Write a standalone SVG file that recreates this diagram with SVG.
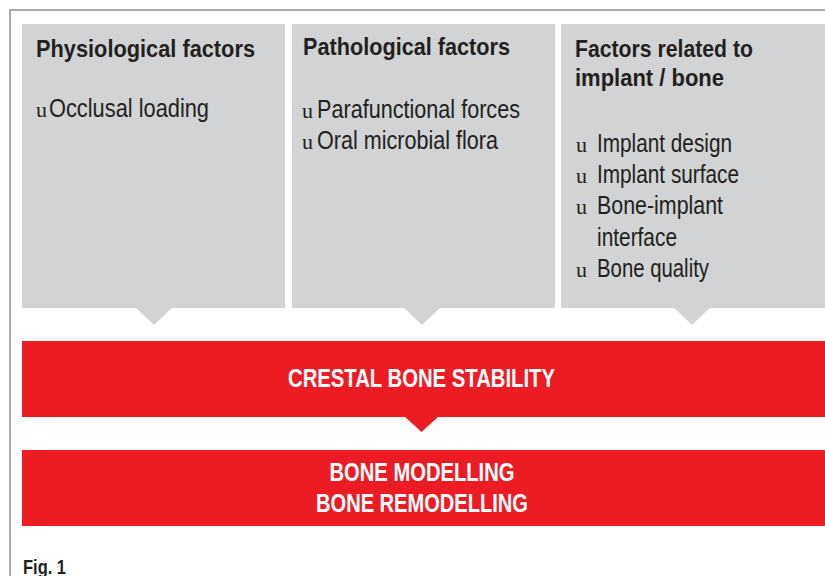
<svg xmlns="http://www.w3.org/2000/svg" width="825" height="576" viewBox="0 0 825 576">
<style>
.box{fill:#d1d3d4}
.red{fill:#ed1c24}
.hd{font-family:"Liberation Sans Narrow","Liberation Sans",Arial,sans-serif;font-weight:bold;font-size:24.5px;fill:#231f20}
.tx{font-family:"Liberation Sans Narrow","Liberation Sans",Arial,sans-serif;font-size:25.5px;fill:#231f20}
.bu{font-family:"Liberation Serif","Times New Roman",serif;font-size:22px;fill:#231f20}
.wt{font-family:"Liberation Sans Narrow","Liberation Sans",Arial,sans-serif;font-weight:bold;font-size:26px;fill:#ffffff}
.fig{font-family:"Liberation Sans Narrow","Liberation Sans",Arial,sans-serif;font-weight:bold;font-size:20px;fill:#231f20}
</style>
<rect width="825" height="576" fill="#ffffff"/>
<path d="M10,576 V10 H825" fill="none" stroke="#a7a9ac" stroke-width="2"/>
<g id="physiological">
<rect class="box" x="22" y="24" width="263" height="284"/>
<text class="hd" x="36" y="57" textLength="219" lengthAdjust="spacingAndGlyphs">Physiological factors</text>
<text class="bu" x="36" y="117">u</text>
<text class="tx" x="49" y="117" textLength="160" lengthAdjust="spacingAndGlyphs">Occlusal loading</text>
</g>
<g id="pathological">
<rect class="box" x="292" y="24" width="263" height="284"/>
<text class="hd" x="303" y="55" textLength="207" lengthAdjust="spacingAndGlyphs">Pathological factors</text>
<text class="bu" x="302" y="118">u</text>
<text class="tx" x="317" y="118" textLength="203" lengthAdjust="spacingAndGlyphs">Parafunctional forces</text>
<text class="bu" x="302" y="149">u</text>
<text class="tx" x="317" y="149" textLength="181" lengthAdjust="spacingAndGlyphs">Oral microbial flora</text>
</g>
<g id="implant-bone">
<rect class="box" x="561" y="24" width="264" height="284"/>
<text class="hd" x="575" y="57" textLength="178" lengthAdjust="spacingAndGlyphs">Factors related to</text>
<text class="hd" x="575" y="86" textLength="149" lengthAdjust="spacingAndGlyphs">implant / bone</text>
<text class="bu" x="576" y="152">u</text>
<text class="tx" x="597" y="152" textLength="135" lengthAdjust="spacingAndGlyphs">Implant design</text>
<text class="bu" x="576" y="183">u</text>
<text class="tx" x="597" y="183" textLength="142" lengthAdjust="spacingAndGlyphs">Implant surface</text>
<text class="bu" x="576" y="214">u</text>
<text class="tx" x="597" y="214" textLength="126" lengthAdjust="spacingAndGlyphs">Bone-implant</text>
<text class="tx" x="597" y="246" textLength="80" lengthAdjust="spacingAndGlyphs">interface</text>
<text class="bu" x="576" y="277">u</text>
<text class="tx" x="597" y="277" textLength="112" lengthAdjust="spacingAndGlyphs">Bone quality</text>
</g>
<g id="connectors">
<polygon class="box" points="135,307 173,307 154,325"/>
<polygon class="box" points="403,307 441,307 422,325"/>
<polygon class="box" points="673,307 711,307 692,325"/>
<polygon class="red" points="404,416 439,416 421.5,432"/>
</g>
<g id="crestal">
<rect class="red" x="22" y="341" width="803" height="76"/>
<text class="wt" x="421.5" y="387" text-anchor="middle" textLength="267" lengthAdjust="spacingAndGlyphs">CRESTAL BONE STABILITY</text>
</g>
<g id="modelling">
<rect class="red" x="22" y="450" width="803" height="76"/>
<text class="wt" x="422" y="481" text-anchor="middle" textLength="185" lengthAdjust="spacingAndGlyphs">BONE MODELLING</text>
<text class="wt" x="422" y="512" text-anchor="middle" textLength="212" lengthAdjust="spacingAndGlyphs">BONE REMODELLING</text>
</g>
<text class="fig" x="23" y="574" textLength="43" lengthAdjust="spacingAndGlyphs">Fig. 1</text>
</svg>
